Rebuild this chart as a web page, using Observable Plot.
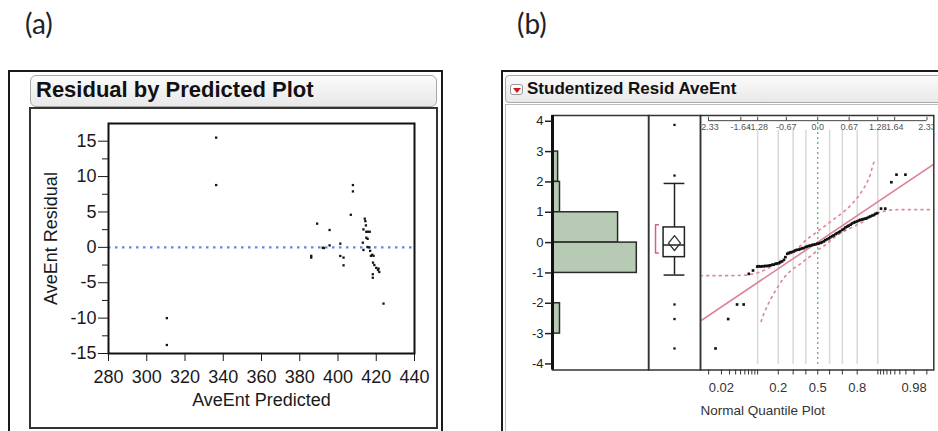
<!DOCTYPE html>
<html><head><meta charset="utf-8">
<script src="https://cdn.jsdelivr.net/npm/d3@7"></script>
<script src="https://cdn.jsdelivr.net/npm/@observablehq/plot@0.6"></script>
<style>
body{margin:0;background:#fff;}
#root{position:relative;width:938px;height:431px;overflow:hidden;background:#fff;font-family:"Liberation Sans",Arial,sans-serif;}
.abs{position:absolute;box-sizing:border-box;}
.plabel{font-family:Lato,"Open Sans",sans-serif;font-size:28px;color:#222;line-height:1;}
.outer{border:2px solid #1a1a1a;}
.titlebox{border:1px solid #a8a8a8;border-radius:6px;background:linear-gradient(#fbfbfb,#e8e8e8);font-weight:bold;color:#111;white-space:nowrap;}
svg{overflow:visible;}
</style></head><body><div id="root">
<div class="abs plabel" style="left:25px;top:9px;">(a)</div>
<div class="abs plabel" style="left:517px;top:9px;">(b)</div>
<div class="abs outer" style="left:8px;top:70px;width:435px;height:380px;"></div>
<div class="abs titlebox" style="left:30px;top:75px;width:407px;height:32px;font-size:22px;line-height:28px;padding-left:5px;">Residual by Predicted Plot</div>
<div class="abs" style="left:29px;top:107px;width:409px;height:322px;border:2px solid #333;"></div>
<div class="abs outer" style="left:501px;top:70px;width:460px;height:380px;"></div>
<div class="abs titlebox" style="left:505px;top:75px;width:440px;height:28px;font-size:17px;line-height:26px;padding-left:21px;border-radius:4px;">Studentized Resid AveEnt</div>
<div class="abs" style="left:510px;top:84px;width:13px;height:11px;border:1px solid #999;border-radius:3px;background:#fff;">
  <div style="position:absolute;left:2px;top:3px;width:0;height:0;border-left:4px solid transparent;border-right:4px solid transparent;border-top:5px solid #d01818;"></div>
</div>
<div class="abs" style="left:505px;top:104px;width:440px;height:340px;border:1px solid #bdbdbd;"></div>
<div id="pa" class="abs" style="left:0;top:0;"></div>
<div id="ph" class="abs" style="left:500px;top:0;"></div>
<div id="pb" class="abs" style="left:647px;top:0;"></div>
<div id="pq" class="abs" style="left:699px;top:0;"></div>
</div>
<script>
// ---------- Panel (a): Residual by Predicted ----------
const aPredicted = [336.3,336.3,310.5,310.5,386.0,386.0,389.1,392.0,392.6,395.6,395.6,401.2,401.2,402.9,402.9,406.7,407.8,407.8,414.0,414.3,414.6,413.3,414.8,415.6,416.6,414.8,415.5,413.0,413.3,415.4,416.4,416.8,417.2,417.9,418.6,418.3,419.0,420.0,420.9,421.6,421.2,418.2,418.2,423.8];
const aResidual  = [15.5,8.8,-10.0,-13.8,-1.2,-1.45,3.35,-0.05,-0.1,2.45,0.28,0.52,-1.22,-1.45,-2.54,4.6,8.8,7.9,4.05,3.7,3.1,2.54,2.2,2.2,2.2,1.36,1.2,0.66,-0.37,0.05,0.0,-0.5,-1.2,-1.05,-1.2,-2.16,-2.5,-2.9,-3.2,-3.48,-3.0,-3.8,-4.3,-7.95];
const aXTicks = [280,300,320,340,360,380,400,420,440];
const aYTicks = [-15,-10,-5,0,5,10,15];
const aYMinor = [-12.5,-7.5,-2.5,2.5,7.5,12.5];

// ---------- Panel (b): Studentized residuals ----------
const histLo    = [2, 1, 0, -1, -3];
const histHi    = [3, 2, 1, 0, -2];
const histCount = [3, 4, 35, 45, 4];
const histYTicks = [-4,-3,-2,-1,0,1,2,3,4];

const boxQ1 = -0.48, boxQ3 = 0.5, boxMedian = -0.08, whiskerLo = -1.07, whiskerHi = 1.95;
const meanCenter = -0.02, meanLo = -0.26, meanHi = 0.23;
const shortestLo = -0.34, shortestHi = 0.59;
const boxOutliers = [3.88, 2.21, -2.04, -2.52, -3.49];

const qqQuantile = [-2.18,-1.91,-1.72,-1.58,-1.47,-1.38,-1.29,-1.26,-1.22,-1.19,-1.15,-1.12,-1.08,-1.04,-1.01,-0.97,-0.94,-0.90,-0.87,-0.83,-0.80,-0.76,-0.72,-0.69,-0.65,-0.62,-0.58,-0.55,-0.51,-0.48,-0.44,-0.40,-0.37,-0.33,-0.30,-0.26,-0.23,-0.19,-0.16,-0.12,-0.09,-0.05,-0.01,0.02,0.06,0.09,0.13,0.16,0.20,0.24,0.27,0.31,0.34,0.38,0.41,0.45,0.48,0.52,0.56,0.59,0.63,0.66,0.70,0.73,0.77,0.80,0.84,0.88,0.91,0.95,0.98,1.02,1.05,1.09,1.12,1.16,1.20,1.23,1.27,1.35,1.44,1.57,1.68,1.87];
const qqResid    = [-3.49,-2.52,-2.04,-2.04,-1.03,-0.92,-0.79,-0.78,-0.79,-0.78,-0.78,-0.77,-0.77,-0.76,-0.75,-0.73,-0.73,-0.70,-0.69,-0.68,-0.65,-0.62,-0.57,-0.48,-0.37,-0.34,-0.32,-0.31,-0.29,-0.26,-0.24,-0.23,-0.21,-0.19,-0.18,-0.15,-0.13,-0.11,-0.10,-0.08,-0.07,-0.06,-0.04,-0.03,-0.01,0.01,0.04,0.08,0.11,0.14,0.18,0.21,0.24,0.28,0.31,0.34,0.37,0.42,0.45,0.50,0.53,0.56,0.59,0.63,0.66,0.68,0.70,0.73,0.75,0.76,0.78,0.79,0.81,0.84,0.86,0.89,0.91,0.95,0.97,1.12,1.12,1.99,2.24,2.24];

const bandUpperQ = [-2.5,-2.0,-1.6,-1.4,-1.25,-1.1,-0.95,-0.8,-0.65,-0.5,-0.35,-0.23,-0.12,0.02,0.164,0.307,0.448,0.59,0.733,0.84,0.947,1.053,1.124,1.173,1.215];
const bandUpperV = [-1.09,-1.09,-1.08,-1.04,-0.98,-0.88,-0.75,-0.6,-0.44,-0.27,-0.08,0.12,0.23,0.40,0.56,0.73,0.89,1.06,1.28,1.47,1.71,1.99,2.26,2.54,2.70];
const bandLowerQ = [-1.207,-1.151,-1.079,-0.994,-0.90,-0.81,-0.71,-0.597,-0.475,-0.369,-0.241,-0.119,-0.013,0.1,0.2,0.377,0.52,0.661,0.804,0.947,1.087,1.23,1.373,1.6,2.0,2.475];
const bandLowerV = [-2.60,-2.35,-2.10,-1.84,-1.58,-1.36,-1.14,-0.96,-0.81,-0.70,-0.54,-0.41,-0.26,-0.15,-0.03,0.20,0.34,0.45,0.56,0.67,0.83,0.95,1.02,1.08,1.09,1.09];
const fitIntercept = 0.015, fitSlope = 1.04;

const topQuantTicks  = [-2.33,-1.64,-1.28,-0.67,0,0.67,1.28,1.64,2.33];
const topQuantLabels = ["-2.33","-1.64","-1.28","-0.67","0.0","0.67","1.28","1.64","2.33"];
const probMajor = [0.02,0.2,0.5,0.8,0.98];
const probMinor = [0.01,0.03,0.04,0.05,0.06,0.07,0.08,0.09,0.1,0.3,0.4,0.6,0.7,0.9,0.91,0.92,0.93,0.94,0.95,0.96,0.97,0.99];
const probGrid  = [0.1,0.2,0.3,0.4,0.6,0.7,0.8,0.9];

function probit(p){
  const a=[-3.969683028665376e+01,2.209460984245205e+02,-2.759285104469687e+02,1.383577518672690e+02,-3.066479806614716e+01,2.506628277459239e+00];
  const b=[-5.447609879822406e+01,1.615858368580409e+02,-1.556989798598866e+02,6.680131188771972e+01,-1.328068155288572e+01];
  const c=[-7.784894002430293e-03,-3.223964580411365e-01,-2.400758277161838e+00,-2.549732539343734e+00,4.374664141464968e+00,2.938163982698783e+00];
  const d=[7.784695709041462e-03,3.224671290700398e-01,2.445134137142996e+00,3.754408661907416e+00];
  const pl=0.02425, ph=1-pl; let q,r;
  if(p<pl){q=Math.sqrt(-2*Math.log(p));return (((((c[0]*q+c[1])*q+c[2])*q+c[3])*q+c[4])*q+c[5])/((((d[0]*q+d[1])*q+d[2])*q+d[3])*q+1);}
  if(p<=ph){q=p-0.5;r=q*q;return (((((a[0]*r+a[1])*r+a[2])*r+a[3])*r+a[4])*r+a[5])*q/(((((b[0]*r+b[1])*r+b[2])*r+b[3])*r+b[4])*r+1);}
  q=Math.sqrt(-2*Math.log(1-p));return -(((((c[0]*q+c[1])*q+c[2])*q+c[3])*q+c[4])*q+c[5])/((((d[0]*q+d[1])*q+d[2])*q+d[3])*q+1);
}

const FONT = "Liberation Sans, Arial, sans-serif";

// ----- Plot (a)
const aPts = aPredicted.map((x,i)=>({x, y:aResidual[i]}));
const plotA = Plot.plot({
  width: 470, height: 431,
  marginLeft: 108, marginRight: 56, marginTop: 123, marginBottom: 78,
  x: {domain: [280, 440]}, y: {domain: [-15, 17.5]},
  style: {fontFamily: FONT, fontSize: "18px", color: "#1a1a1a", background: "transparent", overflow: "visible"},
  marks: [
    Plot.ruleY([0], {stroke: "#6f83dc", strokeWidth: 2.2, strokeDasharray: "2.5,4.5"}),
    Plot.dot(aPts, {x: "x", y: "y", symbol: "square", r: 1.3, fill: "#151515", stroke: null}),
    Plot.frame({stroke: "#111", strokeWidth: 2}),
    Plot.axisX({ticks: aXTicks, tickSize: 8, tickPadding: 9, label: null, tickFormat: d => String(d)}),
    Plot.axisY({ticks: aYTicks, tickSize: 10, tickPadding: 2, label: null, tickFormat: d => String(d)}),
    Plot.axisY({ticks: aYMinor, tickSize: 6, label: null, tickFormat: () => ""}),
    Plot.text(["AveEnt Predicted"], {text: d => d, frameAnchor: "bottom", textAnchor: "middle", dy: 52, fontSize: 18}),
    Plot.text(["AveEnt Residual"], {text: d => d, frameAnchor: "left", textAnchor: "middle", rotate: -90, dx: -57, fontSize: 18})
  ]
});
document.getElementById("pa").append(plotA);

// ----- shared y for (b)
const yDomB = [-4.2, 4.19];
const MT = 115, MB = 61.5;

// ----- histogram
const hist = histLo.map((lo,i)=>({lo, hi: histHi[i], count: histCount[i]}));
const plotH = Plot.plot({
  width: 150, height: 431, marginLeft: 52, marginRight: 1.7, marginTop: MT, marginBottom: MB,
  x: {domain: [0, 51.4]}, y: {domain: yDomB},
  style: {fontFamily: FONT, fontSize: "13px", color: "#222", background: "transparent", overflow: "visible"},
  marks: [
    Plot.rect(hist, {x1: 0, x2: "count", y1: "lo", y2: "hi", fill: "#b6cab4", stroke: "#2a2a2a", strokeWidth: 1.5}),
    Plot.frame({stroke: "#333", strokeWidth: 1.5}),
    Plot.ruleX([0], {stroke: "#111", strokeWidth: 3}),
    Plot.axisX({ticks: [], label: null}),
    Plot.axisY({ticks: histYTicks, tickSize: 7, tickPadding: 2, label: null, tickFormat: d => String(d), strokeWidth: 1.5})
  ]
});
document.getElementById("ph").append(plotH);

// ----- box plot
const diamond = [
  {x: 0.5, y: meanHi}, {x: 0.385, y: meanCenter}, {x: 0.5, y: meanLo}, {x: 0.615, y: meanCenter}, {x: 0.5, y: meanHi}
];
const bracket = [
  {x: 0.19, y: shortestHi}, {x: 0.135, y: shortestHi}, {x: 0.135, y: shortestLo}, {x: 0.19, y: shortestLo}
];
const plotB = Plot.plot({
  width: 54, height: 431, marginLeft: 1, marginRight: 1, marginTop: MT, marginBottom: MB,
  x: {domain: [0, 1]}, y: {domain: yDomB},
  style: {fontFamily: FONT, background: "transparent", overflow: "visible"},
  marks: [
    Plot.ruleX([0.5], {y1: whiskerLo, y2: whiskerHi, stroke: "#222", strokeWidth: 1.5}),
    Plot.ruleY([whiskerLo, whiskerHi], {x1: 0.3, x2: 0.7, stroke: "#222", strokeWidth: 1.5}),
    Plot.rect([0], {x1: 0.29, x2: 0.7, y1: boxQ1, y2: boxQ3, fill: "#fff", stroke: "#222", strokeWidth: 1.5}),
    Plot.ruleY([boxMedian], {x1: 0.29, x2: 0.7, stroke: "#222", strokeWidth: 1.5}),
    Plot.line(diamond, {x: "x", y: "y", stroke: "#333", strokeWidth: 1.3, curve: "linear"}),
    Plot.line(bracket, {x: "x", y: "y", stroke: "#d2637f", strokeWidth: 1.5}),
    Plot.dot(boxOutliers, {x: 0.5, y: d => d, symbol: "square", r: 1.3, fill: "#151515", stroke: null}),
    Plot.frame({stroke: "#333", strokeWidth: 1.5}),
    Plot.axisX({ticks: [], label: null}),
    Plot.axisY({ticks: [], label: null})
  ]
});
document.getElementById("pb").append(plotB);

// ----- normal quantile plot
const qqPts = qqQuantile.map((q,i)=>({q, v: qqResid[i]}));
const upper = bandUpperQ.map((q,i)=>({q, v: bandUpperV[i]}));
const lower = bandLowerQ.map((q,i)=>({q, v: bandLowerV[i]}));
const xDomQ = [-2.5, 2.475];
const fit = xDomQ.map(q => ({q, v: fitIntercept + fitSlope*q}));
const majorZ = probMajor.map(probit);
const labelOf = new Map(majorZ.map((z,i)=>[z, String(probMajor[i])]));
const topTicks = topQuantTicks.map((t,i)=>({t, label: topQuantLabels[i]}));
const topAxisLevel = 4.02;
const plotQ = Plot.plot({
  width: 239, height: 431, marginLeft: 1, marginRight: 4.7, marginTop: MT, marginBottom: MB,
  x: {domain: xDomQ}, y: {domain: yDomB},
  style: {fontFamily: FONT, fontSize: "13px", color: "#333", background: "transparent", overflow: "visible"},
  marks: [
    Plot.ruleX(probGrid.map(probit), {y1: -4.02, y2: 3.7, stroke: "#d8d8d8", strokeWidth: 1.5}),
    Plot.ruleX([0], {y1: -4.02, y2: 4.0, stroke: "#5aa85a", strokeWidth: 1.2, strokeDasharray: "2,3"}),
    Plot.line(upper, {x: "q", y: "v", stroke: "#e0889b", strokeWidth: 1.7, strokeDasharray: "1.8,4.5", curve: "monotone-x", clip: true}),
    Plot.line(lower, {x: "q", y: "v", stroke: "#e0889b", strokeWidth: 1.7, strokeDasharray: "1.8,4.5", curve: "monotone-x", clip: true}),
    Plot.line(fit, {x: "q", y: "v", stroke: "#de8395", strokeWidth: 1.6, clip: true}),
    Plot.dot(qqPts, {x: "q", y: "v", symbol: "square", r: 1.5, fill: "#111", stroke: null}),
    Plot.ruleY([topAxisLevel], {x1: topQuantTicks[0], x2: topQuantTicks[topQuantTicks.length-1], stroke: "#444", strokeWidth: 1}),
    Plot.ruleX(topTicks, {x: "t", y1: topAxisLevel, y2: topAxisLevel + 0.11, stroke: "#444", strokeWidth: 1}),
    Plot.text(topTicks, {x: "t", y: topAxisLevel - 0.2, text: "label", fontSize: 9, fill: "#555", clip: true}),
    Plot.frame({stroke: "#333", strokeWidth: 1.5}),
    Plot.axisX({ticks: probMinor.map(probit), tickSize: 5, label: null, tickFormat: () => "", stroke: "#333"}),
    Plot.axisX({ticks: majorZ, tickSize: 5, tickPadding: 8, label: null, tickFormat: z => labelOf.get(z), fill: "#333", stroke: "#333"}),
    Plot.axisY({ticks: [], label: null}),
    Plot.text(["Normal Quantile Plot"], {text: d => d, frameAnchor: "bottom-left", textAnchor: "start", dy: 45, fontSize: 13.5, fill: "#333"})
  ]
});
document.getElementById("pq").append(plotQ);
</script>
</body></html>
